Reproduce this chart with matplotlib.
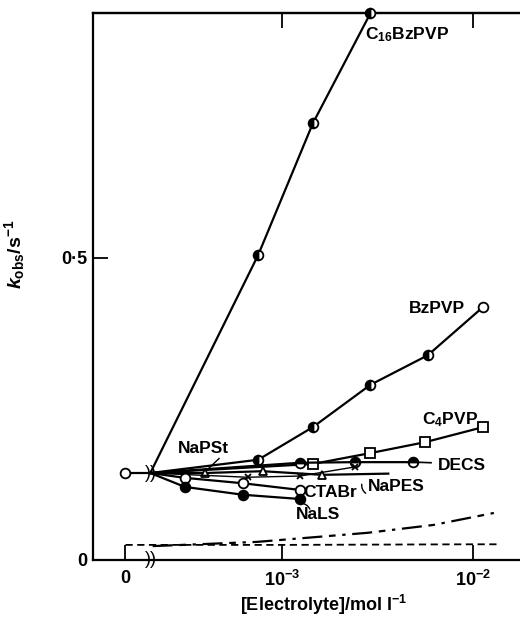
import numpy as np
import matplotlib

matplotlib.use("Agg")  # headless
import matplotlib.pyplot as plt  # noqa: E402

plt.rcParams["font.family"] = ["Liberation Sans", "DejaVu Sans"]
plt.rcParams["font.weight"] = "bold"
plt.rcParams["axes.labelweight"] = "bold"
plt.rcParams["mathtext.fontset"] = "custom"
plt.rcParams["mathtext.rm"] = "Liberation Sans:bold"
plt.rcParams["mathtext.it"] = "Liberation Sans:italic:bold"
plt.rcParams["mathtext.bf"] = "Liberation Sans:bold"

# x axis is log10[electrolyte] with a break; c = 0 is drawn left of the break
X_ZERO = -3.82
X_BREAK = -3.69
K0 = 0.144  # k_obs with no added electrolyte

c16_conc = [7.5e-4, 1.45e-3, 2.9e-3]
c16_k = [0.505, 0.723, 0.905]
bz_conc = [7.5e-4, 1.45e-3, 2.9e-3, 5.8e-3, 1.13e-2]
bz_k = [0.166, 0.220, 0.290, 0.339, 0.419]
c4_conc = [1.45e-3, 2.9e-3, 5.6e-3, 1.13e-2]
c4_k = [0.159, 0.177, 0.195, 0.220]
decs_conc = [1.24e-3, 2.4e-3, 4.85e-3]
decs_k = [0.161, 0.162, 0.162]
napst_conc = [3.95e-4, 7.9e-4, 1.62e-3, 3.6e-3]
napst_k = [0.144, 0.147, 0.141, 0.143]
napes_conc = [6.6e-4, 1.24e-3, 2.4e-3]
napes_k = [0.137, 0.139, 0.154]
ctabr_conc = [3.1e-4, 6.25e-4, 1.24e-3]
ctabr_k = [0.136, 0.127, 0.116]
nals_conc = [3.1e-4, 6.25e-4, 1.24e-3]
nals_k = [0.121, 0.108, 0.101]

# blanks (no polymer) near the bottom
blank_conc = [0, 2.0e-4, 1e-3, 1e-2, 1.38e-2]
blank_k = [0.025, 0.025, 0.025, 0.026, 0.026]
chain_conc = [2.1e-4, 7.4e-4, 2.8e-3, 6.2e-3, 1.34e-2]
chain_k = [0.023, 0.030, 0.045, 0.058, 0.079]


def xpos(conc):
    c = np.asarray(conc, dtype=float)
    return np.where(c > 0, np.log10(np.where(c > 0, c, 1.0)), X_ZERO)


def series(conc, k):
    # every series starts from the zero-electrolyte value at the break
    return np.r_[X_BREAK, xpos(conc)], np.r_[K0, k]


fig = plt.figure(figsize=(5.2, 6.17), dpi=100)
ax = fig.add_axes([93 / 520, 57 / 617, 427 / 520, 547 / 617])

lw = 1.6
ms = 7
kw = dict(color="black", lw=lw, ms=ms, mec="black", mew=1.3)

# zero point joined to the break
ax.plot([X_ZERO, X_BREAK], [K0, K0], color="black", lw=lw)
ax.plot([X_ZERO], [K0], "o", mfc="white", mec="black", ms=ms, mew=1.3)

x, y = series(c16_conc, c16_k)
ax.plot(x, y, marker="o", fillstyle="left", mfc="black", mfcalt="white",
        markevery=list(range(1, len(x))), clip_on=False, zorder=4, **kw)

x, y = series(bz_conc, bz_k)
ax.plot(x, y, marker="o", fillstyle="left", mfc="black", mfcalt="white",
        markevery=list(range(1, len(x) - 1)), **kw)
ax.plot(x[-1:], y[-1:], "o", mfc="white", mec="black", ms=ms, mew=1.3)

x, y = series(c4_conc, c4_k)
ax.plot(x, y, marker="s", mfc="white", markevery=list(range(1, len(x))), **kw)

x, y = series(decs_conc, decs_k)
ax.plot(x, y, marker="o", fillstyle="top", mfc="black", mfcalt="white",
        markevery=list(range(1, len(x))), **kw)

x, y = series(napst_conc, napst_k)
ax.plot(x, y, marker="^", mfc="white", markevery=list(range(1, len(x) - 1)),
        **dict(kw, ms=6))

x, y = series(napes_conc, napes_k)
ax.plot(x, y, marker="x", markevery=list(range(1, len(x))),
        **dict(kw, ms=5, lw=1.0))

x, y = series(ctabr_conc, ctabr_k)
ax.plot(x, y, marker="o", mfc="white", markevery=list(range(1, len(x))), **kw)

x, y = series(nals_conc, nals_k)
ax.plot(x, y, marker="o", mfc="black", markevery=list(range(1, len(x))), **kw)

ax.plot(xpos(blank_conc), blank_k, color="black", lw=1.3, dashes=(4, 2.5))
ax.plot(xpos(chain_conc), chain_k, color="black", lw=1.6,
        dashes=(9, 3, 3, 3, 1.5, 3))

# break marks on the curves and on the axis
for dx in (-0.012, 0.012):
    ax.text(X_BREAK + dx, K0, ")", ha="center", va="center", fontsize=13,
            fontweight="normal")
    ax.text(X_BREAK + dx, 0.0, ")", ha="center", va="center", fontsize=13,
            fontweight="normal", clip_on=False)

# labels
fs = 12.5
ax.text(-2.565, 0.869, r"C$_{16}$BzPVP", ha="left", va="center", fontsize=fs)
ax.text(-2.19, 0.416, "BzPVP", ha="center", va="center", fontsize=fs)
ax.text(-2.12, 0.233, r"C$_4$PVP", ha="center", va="center", fontsize=fs)
ax.text(-2.06, 0.157, "DECS", ha="center", va="center", fontsize=fs)
ax.text(-2.40, 0.121, "NaPES", ha="center", va="center", fontsize=fs)
ax.text(-2.75, 0.111, "CTABr", ha="center", va="center", fontsize=fs)
ax.text(-2.81, 0.075, "NaLS", ha="center", va="center", fontsize=fs)
ax.text(-3.41, 0.185, "NaPSt", ha="center", va="center", fontsize=fs)

# leaders
ax.plot([-3.33, -3.39], [0.168, 0.150], color="black", lw=1.0)
ax.plot([-2.30, -2.22], [0.162, 0.161], color="black", lw=1.2)
ax.annotate("", xy=(-2.58, 0.130), xytext=(-2.55, 0.108),
            arrowprops=dict(arrowstyle="-", lw=1.0,
                            connectionstyle="arc3,rad=-0.4"))
ax.annotate("", xy=(-2.91, 0.094), xytext=(-2.85, 0.080),
            arrowprops=dict(arrowstyle="-", lw=1.0,
                            connectionstyle="arc3,rad=0.4"))

ax.set_xlim(-3.99, -1.754)
ax.set_ylim(0, 0.9056)

ax.set_xticks([X_ZERO, -3, -2])
ax.set_xticklabels(["0", r"10$^{-3}$", r"10$^{-2}$"])
ax.set_yticks([0, 0.5])
ax.set_yticklabels(["0", "0\u00b75"])
ax.tick_params(axis="both", direction="in", length=11, width=1.3,
               labelsize=13, right=False, top=False)
ax.tick_params(axis="x", pad=7)
ax.tick_params(axis="y", pad=4)

top = ax.secondary_xaxis("top")
top.set_xticks([-3, -2])
top.tick_params(direction="in", length=11, width=1.3, labeltop=False)

for side in ("left", "bottom", "top"):
    ax.spines[side].set_linewidth(1.6)
top.spines["top"].set_linewidth(1.6)
ax.spines["right"].set_visible(False)

ax.set_xlabel(r"[Electrolyte]/mol l$^{-1}$", fontsize=13)
ax.xaxis.set_label_coords(0.539, -0.060)
ax.set_ylabel(r"$k_{\rm obs}$/s$^{-1}$", fontsize=14)
ax.yaxis.set_label_coords(-0.155, 0.558)

fig.savefig("out.png", dpi=100)
